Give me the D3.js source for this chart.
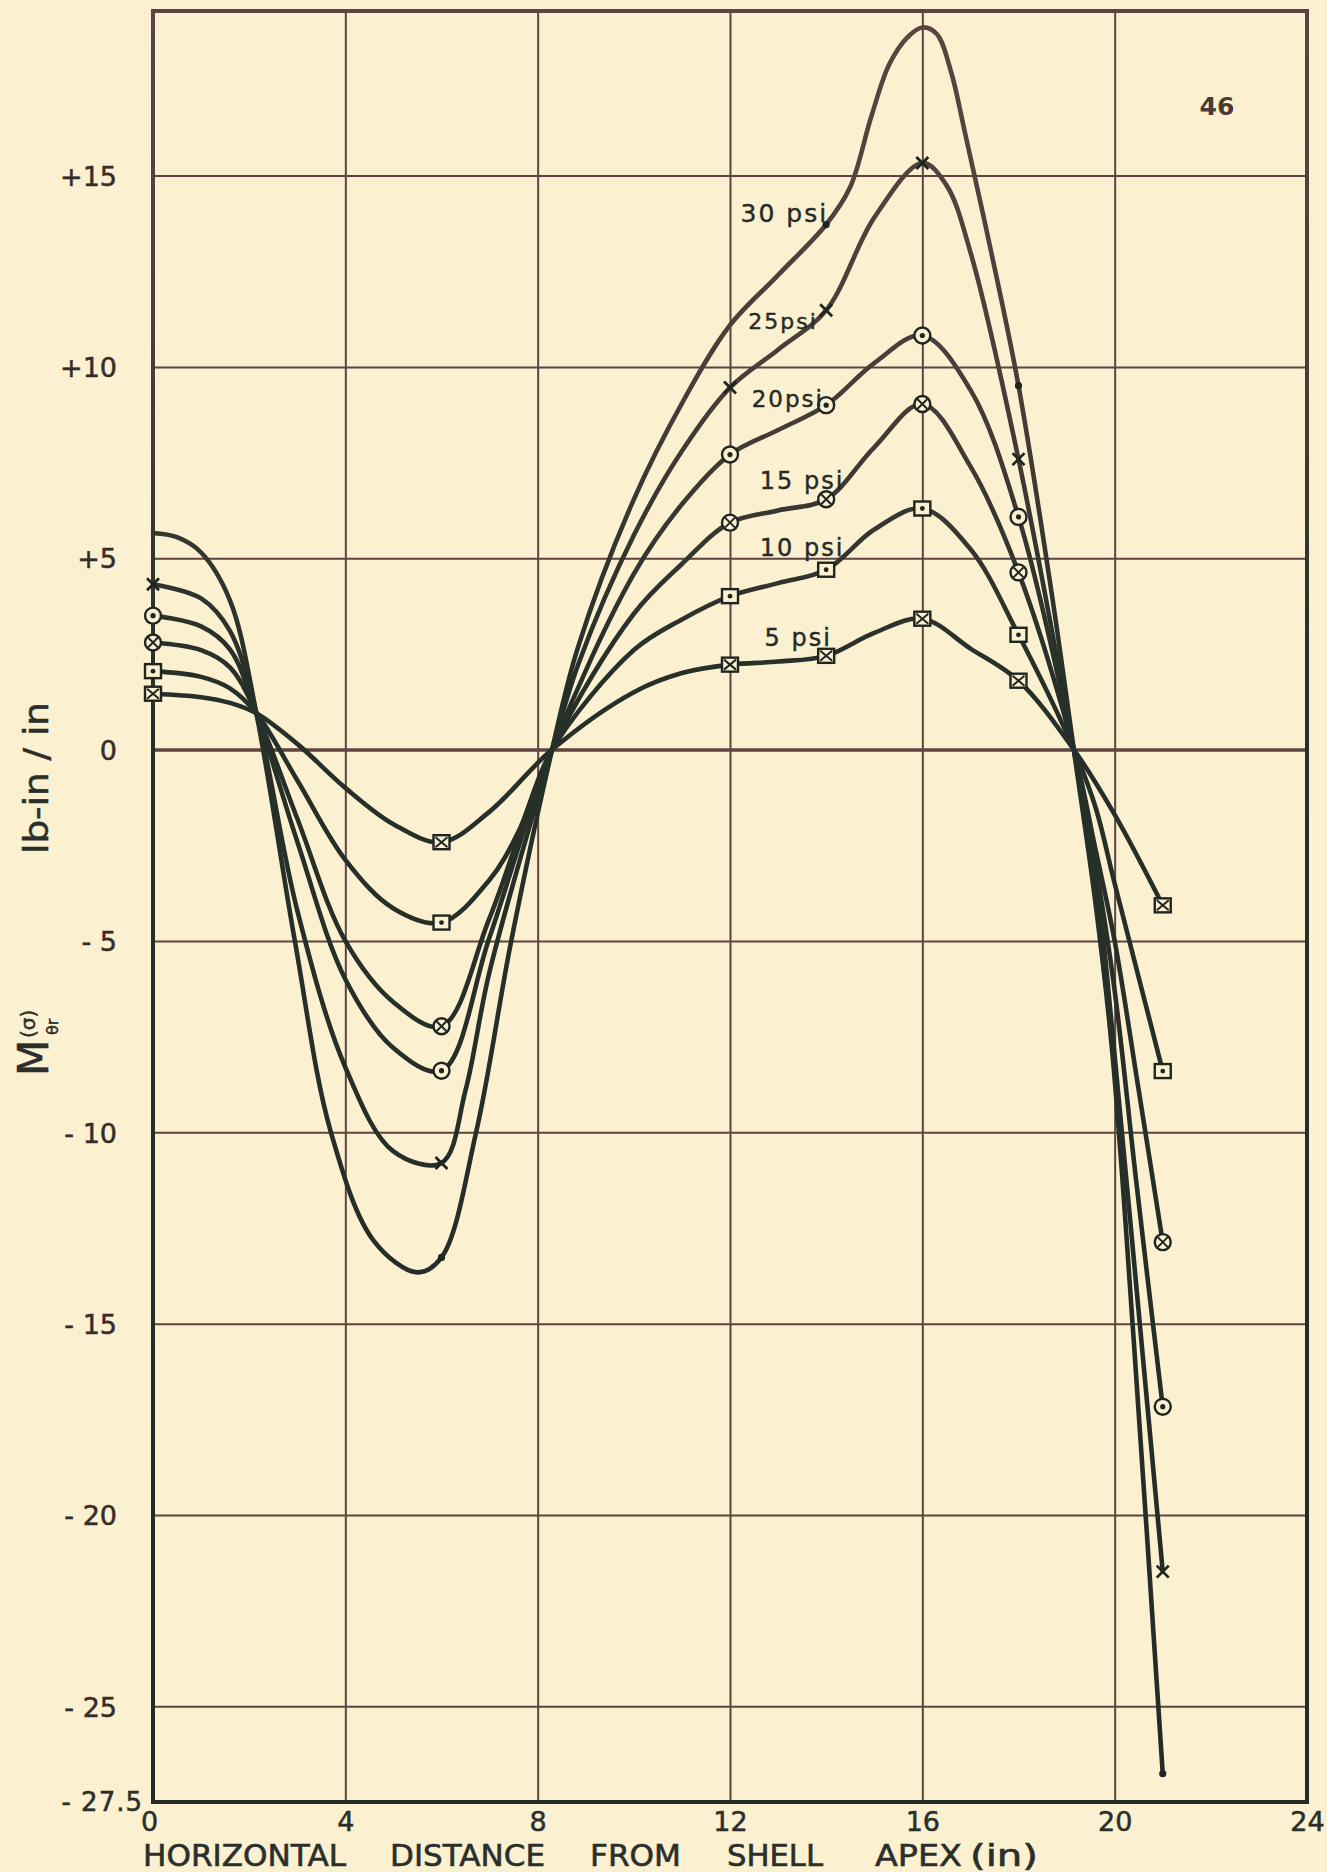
<!DOCTYPE html>
<html>
<head>
<meta charset="utf-8">
<script src="https://cdn.jsdelivr.net/npm/d3@7"></script>
<style>
  html, body { margin: 0; padding: 0; background: #fbf0cf; }
  svg { display: block; }
  text { font-family: "DejaVu Sans", "Noto Sans", sans-serif; }
</style>
</head>
<body>
<svg id="chart" width="1327" height="1872"></svg>
<script>
// Stations along the shell where the moment was measured (in)
const stations = [0, 6, 12, 14, 16, 18, 21];

// Measured moment M(σ)θr at each station, lb-in/in
const psi5  = [1.46, -2.42, 2.22, 2.45, 3.42, 1.80, -4.07];
const psi10 = [2.05, -4.52, 4.01, 4.70, 6.30, 3.00, -8.40];
const psi15 = [2.80, -7.23, 5.93, 6.54, 9.03, 4.63, -12.87];
const psi20 = [3.50, -8.39, 7.71, 9.00, 10.82, 6.08, -17.17];
const psi25 = [4.32, -10.80, 9.46, 11.48, 15.33, 7.59, -21.48];
const psi30 = [5.66, -13.27, 11.09, 13.72, 18.87, 9.51, -26.76];

// Points read along each faired curve between the stations [x, M]
const fair5  = [[1, 1.37], [1.6, 1.22], [2.15, 0.95], [3, 0.15], [4, -1.0], [5, -1.95], [7, -1.62], [8.3, 0], [10, 1.5], [11, 2.0], [13, 2.3], [15, 3.05], [17, 2.64], [19.15, 0], [20, -1.7]];
const fair10 = [[1, 1.9], [1.6, 1.6], [2.15, 0.95], [3, -0.8], [4, -2.88], [5, -4.15], [7, -3.4], [7.6, -2.15], [8.3, 0], [10, 2.6], [11, 3.4], [13, 4.35], [15, 5.75], [17, 5.24], [19.15, 0], [19.6, -1.5], [20, -3.5]];
const fair15 = [[1, 2.6], [1.6, 2.15], [2.15, 0.95], [3, -1.8], [4, -5.0], [5, -6.6], [7, -4.4], [8.3, 0], [10, 3.55], [11, 4.85], [13, 6.25], [15, 7.9], [17, 7.4], [19.15, 0], [19.6, -2.6], [20, -5.0], [20.5, -8.9]];
const fair20 = [[1, 3.22], [1.6, 2.62], [2.15, 0.95], [3, -2.4], [4, -6.0], [5, -7.8], [7, -4.9], [8.3, 0], [10, 4.59], [11, 6.41], [13, 8.35], [15, 10.1], [17, 9.4], [19.15, 0], [19.6, -3.0], [20, -6.3], [20.45, -11.3]];
const fair25 = [[1, 3.95], [1.6, 3.1], [2.15, 0.95], [3, -4.2], [4, -8.3], [5, -10.5], [6.5, -8.9], [7, -5.8], [8.3, 0], [8.85, 2.25], [10, 5.6], [11, 7.8], [13, 10.45], [15, 13.9], [16.5, 14.75], [17, 13.0], [19.15, 0], [19.6, -3.2], [20, -8.0], [20.5, -14.7]];
const fair30 = [[0.5, 5.55], [1, 5.15], [1.6, 3.9], [2.15, 0.95], [2.95, -5], [3.7, -10], [4.6, -12.85], [5.5, -13.66], [6.72, -10], [7.45, -5], [8.3, 0], [8.83, 2.64], [10, 6.54], [11.04, 9.14], [13, 12.4], [14.5, 14.7], [14.94, 16.55], [15.31, 17.9], [15.68, 18.6], [16.3, 18.7], [16.6, 17.7], [16.88, 16.16], [17.45, 12.9], [18.7, 4.0], [19.15, 0], [19.6, -4.0], [19.95, -7.9], [20.4, -15.5]];

// Which stations carry a plotted symbol on the 30 psi curve
const psi30Marked = [false, true, false, true, false, true, true];

const seriesNames = ["5 psi", "10 psi", "15 psi", "20psi", "25psi", "30 psi"];

// Axis ticks
const yTicks = [15, 10, 5, 0, -5, -10, -15, -20, -25];
const yTickLabels = ["+15", "+10", "+5", "0", "- 5", "- 10", "- 15", "- 20", "- 25"];
const xTicks = [0, 4, 8, 12, 16, 20, 24];
const xTickLabels = ["0", "4", "8", "12", "16", "20", "24"];

// ---------------------------------------------------------------------------
const svg = d3.select("#chart");
const paper = "#fbf0cf";

const x = d3.scaleLinear().domain([0, 24]).range([153, 1307]);
const y = d3.scaleLinear().domain([-27.5, 19.3]).range([1802, 11]);

svg.append("rect").attr("width", 1327).attr("height", 1872).attr("fill", paper);

// ink shifts from brown near the top of the sheet to near-black lower down
const defs = svg.append("defs");
const grad = defs.append("linearGradient").attr("id", "ink")
  .attr("gradientUnits", "userSpaceOnUse")
  .attr("x1", 0).attr("y1", 0).attr("x2", 0).attr("y2", 1872);
grad.append("stop").attr("offset", 0).attr("stop-color", "#5d4440");
grad.append("stop").attr("offset", 0.2).attr("stop-color", "#4a3d39");
grad.append("stop").attr("offset", 0.36).attr("stop-color", "#263029");
grad.append("stop").attr("offset", 1).attr("stop-color", "#252b27");
const ink = "url(#ink)";

// grid via axes
const yAxis = d3.axisLeft(y).tickValues(yTicks)
  .tickFormat((d, i) => yTickLabels[i])
  .tickSize(-(x(24) - x(0))).tickPadding(36);
const gy = svg.append("g").attr("transform", `translate(${x(0)},0)`).call(yAxis);
gy.select(".domain").remove();
gy.selectAll(".tick line").attr("stroke", ink).attr("stroke-width", d => d === 0 ? 3.5 : 2);
gy.selectAll(".tick text").attr("fill", "#352d2a").attr("font-size", 27)
  .attr("stroke", "#352d2a").attr("stroke-width", 0.5)
  .attr("dy", "0.36em");

const xAxis = d3.axisBottom(x).tickValues(xTicks)
  .tickFormat((d, i) => xTickLabels[i])
  .tickSize(-(y(-27.5) - y(19.3))).tickPadding(10);
const gx = svg.append("g").attr("transform", `translate(0,${y(-27.5)})`).call(xAxis);
gx.select(".domain").remove();
gx.selectAll(".tick line").attr("stroke", ink).attr("stroke-width", 2);
gx.selectAll(".tick text").attr("fill", "#2a2f2b").attr("font-size", 27)
  .attr("stroke", "#2a2f2b").attr("stroke-width", 0.5)
  .attr("dx", d => d === 0 ? -4 : 0);

// bottom-left value of the vertical scale
svg.append("text").attr("x", 143).attr("y", y(-27.5)).attr("dy", "0.36em")
  .attr("text-anchor", "end").attr("font-size", 26).attr("fill", "#2a2f2b")
  .attr("stroke", "#2a2f2b").attr("stroke-width", 0.5)
  .attr("letter-spacing", 1)
  .text("- 27.5");

// plot frame
svg.append("rect")
  .attr("x", x(0)).attr("y", y(19.3))
  .attr("width", x(24) - x(0)).attr("height", y(-27.5) - y(19.3))
  .attr("fill", "none").attr("stroke", ink).attr("stroke-width", 4);

// ---------------------------------------------------------------------------
// curves
const series = [
  { name: seriesNames[0], vals: psi5,  fair: fair5,  sym: "boxX" },
  { name: seriesNames[1], vals: psi10, fair: fair10, sym: "boxDot" },
  { name: seriesNames[2], vals: psi15, fair: fair15, sym: "circX" },
  { name: seriesNames[3], vals: psi20, fair: fair20, sym: "circDot" },
  { name: seriesNames[4], vals: psi25, fair: fair25, sym: "cross" },
  { name: seriesNames[5], vals: psi30, fair: fair30, sym: "dot", marked: psi30Marked }
];

const line = d3.line().x(d => x(d[0])).y(d => y(d[1]))
  .curve(d3.curveCatmullRom.alpha(0.5));

series.forEach(s => {
  const pts = stations.map((st, i) => [st, s.vals[i]]).concat(s.fair)
    .sort((a, b) => a[0] - b[0]);
  svg.append("path").datum(pts).attr("d", line)
    .attr("fill", "none").attr("stroke", ink).attr("stroke-width", 4.6)
    .attr("stroke-linejoin", "round").attr("stroke-linecap", "round");
});

// symbols at the measured stations
function drawSymbol(g, sym) {
  const c = "#1f2622";
  if (sym === "boxX" || sym === "boxDot") {
    g.append("rect").attr("x", -8).attr("y", -7).attr("width", 16).attr("height", 14)
      .attr("fill", paper).attr("stroke", c).attr("stroke-width", 2.4);
    if (sym === "boxX") {
      g.append("path").attr("d", "M-6,-5L6,5M6,-5L-6,5").attr("stroke", c).attr("stroke-width", 2);
    } else {
      g.append("circle").attr("r", 2.4).attr("fill", c);
    }
  } else if (sym === "circX" || sym === "circDot") {
    g.append("circle").attr("r", 8).attr("fill", paper).attr("stroke", c).attr("stroke-width", 2.4);
    if (sym === "circX") {
      g.append("path").attr("d", "M-5,-5L5,5M5,-5L-5,5").attr("stroke", c).attr("stroke-width", 2);
    } else {
      g.append("circle").attr("r", 2.6).attr("fill", c);
    }
  } else if (sym === "cross") {
    g.append("path").attr("d", "M-6,-6L6,6M6,-6L-6,6").attr("stroke", c).attr("stroke-width", 2.8);
  } else {
    g.append("circle").attr("r", 3.6).attr("fill", c);
  }
}

series.forEach(s => {
  stations.forEach((st, i) => {
    if (s.marked && !s.marked[i]) return;
    const g = svg.append("g").attr("transform", `translate(${x(st)},${y(s.vals[i])})`);
    drawSymbol(g, s.sym);
  });
});

// curve labels, anchored in data coordinates
const labelAt = [[12.72, 2.72], [12.62, 5.05], [12.62, 6.82], [12.45, 8.95], [12.38, 11.0], [12.22, 13.78]];
const labelSize = [24, 24, 24, 23, 22, 25];
series.forEach((s, i) => {
  svg.append("text").attr("x", x(labelAt[i][0])).attr("y", y(labelAt[i][1]))
    .attr("font-size", labelSize[i]).attr("fill", "#262b27")
    .attr("stroke", "#262b27").attr("stroke-width", 0.4)
    .attr("letter-spacing", 2)
    .text(s.name);
});

// sheet number
svg.append("text").attr("x", 1217).attr("y", 115).attr("text-anchor", "middle")
  .attr("font-size", 25).attr("font-weight", "bold").attr("fill", "#4b3a36")
  .text("46");

// horizontal axis title, word by word
const titleWords = [["HORIZONTAL", 143, 203], ["DISTANCE", 390, 155], ["FROM", 590, 91],
                    ["SHELL", 727, 96], ["APEX", 875, 87], ["(in)", 970, 68]];
titleWords.forEach(([w, x0, len]) => {
  svg.append("text").attr("x", x0).attr("y", 1866)
    .attr("font-size", 30).attr("fill", "#2a2f2b")
    .attr("stroke", "#2a2f2b").attr("stroke-width", 0.6)
    .attr("textLength", len).attr("lengthAdjust", "spacingAndGlyphs")
    .text(w);
});

// vertical axis title, rotated
const yl = svg.append("g").attr("transform", "translate(48,1076) rotate(-90)")
  .attr("fill", "#2a2f2b").attr("stroke", "#2a2f2b").attr("stroke-width", 0.5);
yl.append("text").attr("x", 0).attr("y", 0).attr("font-size", 42).text("M");
yl.append("text").attr("x", 38).attr("y", -13).attr("font-size", 20).text("(σ)");
yl.append("text").attr("x", 41).attr("y", 10).attr("font-size", 16).text("θr");
yl.append("text").attr("x", 222).attr("y", 0).attr("font-size", 33)
  .attr("textLength", 152).attr("lengthAdjust", "spacingAndGlyphs")
  .text("lb-in / in");
</script>
</body>
</html>
